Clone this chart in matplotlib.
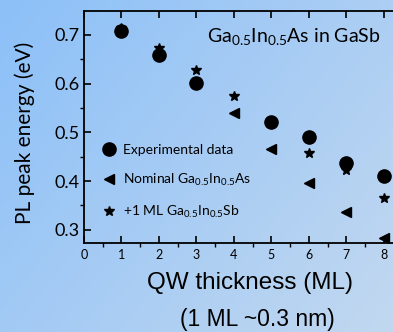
import numpy as np
import matplotlib
matplotlib.use("Agg")
from matplotlib import pyplot as plt

plt.rcParams["font.family"] = ["Lato", "DejaVu Sans"]
plt.rcParams["mathtext.fontset"] = "custom"
plt.rcParams["mathtext.rm"] = "Lato"
plt.rcParams["mathtext.it"] = "Lato:italic"

# values
exp_x = [1, 2, 3, 5, 6, 7, 8]
exp_y = [0.707, 0.659, 0.601, 0.521, 0.491, 0.438, 0.411]

nom_x = [4, 5, 6, 7, 8]
nom_y = [0.539, 0.466, 0.397, 0.336, 0.283]

plus_x = [1, 2, 3, 4, 6, 7, 8]
plus_y = [0.714, 0.673, 0.627, 0.574, 0.458, 0.422, 0.365]

x_ticks = [0, 1, 2, 3, 4, 5, 6, 7, 8]
y_ticks = [0.3, 0.4, 0.5, 0.6, 0.7]

fig = plt.figure(figsize=(3.93, 3.32), dpi=100)

# blue gradient background
bg = fig.add_axes([0, 0, 1, 1], zorder=-10)
gx, gy = np.meshgrid(np.linspace(0, 1, 200), np.linspace(0, 1, 200))
g = 0.6 * gx + 0.4 * gy
top = np.array([0x8c, 0xc0, 0xf8]) / 255
bot = np.array([0xc2, 0xd8, 0xf0]) / 255
img = top[None, None, :] * (1 - g[..., None]) + bot[None, None, :] * g[..., None]
bg.imshow(img, aspect="auto", extent=[0, 1, 0, 1])
bg.axis("off")

ax = fig.add_axes([0.2137, 0.268, 0.811, 0.699])
ax.patch.set_alpha(0)

ax.plot(exp_x, exp_y, "o", color="black", ms=9.5, label="Experimental data", zorder=3)
ax.plot(nom_x, nom_y, "<", color="black", ms=6.5,
        label=r"Nominal Ga$_{0.5}$In$_{0.5}$As", zorder=2)
ax.plot(plus_x, plus_y, "*", color="black", ms=7.5,
        label=r"+1 ML Ga$_{0.5}$In$_{0.5}$Sb", zorder=4)

ax.set_xlim(0, 8.5)
ax.set_ylim(0.273, 0.749)
ax.set_xticks(x_ticks)
ax.set_yticks(y_ticks)
ax.set_xticks(np.arange(0.5, 8.5, 1), minor=True)
ax.set_yticks(np.arange(0.35, 0.75, 0.1), minor=True)
ax.tick_params(direction="in", top=True, width=1.2)
ax.tick_params(which="major", length=5)
ax.tick_params(which="minor", length=3, width=1)
ax.tick_params(axis="x", labelsize=9, pad=4)
ax.tick_params(axis="y", labelsize=13, pad=3)
for s in ax.spines.values():
    s.set_linewidth(1.3)

fig.text(0.064, 0.6, "PL peak energy (eV)", fontsize=15, rotation=90,
         ha="center", va="center")
fig.text(0.636, 0.148, "QW thickness (ML)", fontsize=17.5, family="Liberation Sans",
         ha="center", va="center")
fig.text(0.654, 0.039, "(1 ML ~0.3 nm)", fontsize=16.5, family="Liberation Sans",
         ha="center", va="center")

ax.text(0.386, 0.89, r"Ga$_{0.5}$In$_{0.5}$As in GaSb", transform=ax.transAxes,
        fontsize=14, ha="left", va="center")

ax.legend(loc="upper left", bbox_to_anchor=(0.04, 0.45), frameon=False,
          fontsize=10, handlelength=1.0, handletextpad=0.5, labelspacing=1.15,
          borderaxespad=0)

fig.savefig("out.png", dpi=100)
